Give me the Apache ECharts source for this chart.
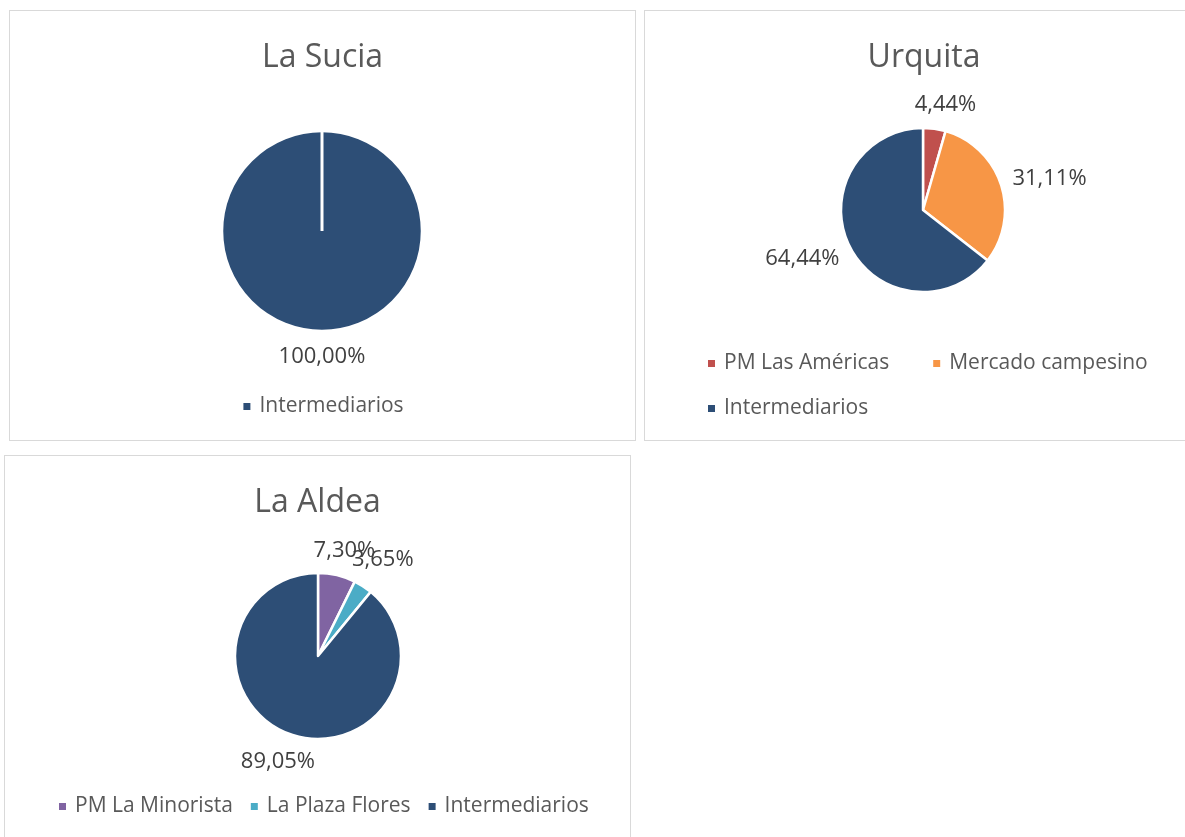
<!DOCTYPE html>
<html>
<head>
<meta charset="utf-8">
<script src="https://cdn.jsdelivr.net/npm/echarts@6/dist/echarts.min.js"></script>
<style>
  html, body { margin: 0; padding: 0; background: #fff; overflow: hidden; width: 1185px; height: 837px; }
  .panel { position: absolute; border: 1.5px solid #d9d9d9; box-sizing: border-box; }
</style>
</head>
<body>
<div id="p1" class="panel" style="left:9px; top:10px; width:627px; height:431px;"></div>
<div id="p2" class="panel" style="left:644px; top:10px; width:560px; height:431px;"></div>
<div id="p3" class="panel" style="left:4px; top:455px; width:627px; height:400px;"></div>
<script>
// Shares of sales channels per community (percent)
const sucia_categories = ['Intermediarios'];
const sucia_values = [100.00];

const urquita_categories = ['PM Las Américas', 'Mercado campesino', 'Intermediarios'];
const urquita_values = [4.44, 31.11, 64.44];

const aldea_categories = ['PM La Minorista', 'La Plaza Flores', 'Intermediarios'];
const aldea_values = [7.30, 3.65, 89.05];

const COLORS = {
  'Intermediarios': '#2d4e76',
  'PM Las Américas': '#c0504d',
  'Mercado campesino': '#f79646',
  'PM La Minorista': '#8064a2',
  'La Plaza Flores': '#4bacc6'
};

const FONT = '"Open Sans"';
const LABEL_SIZE = 22;

function pct(v) {
  return v.toFixed(2).replace('.', ',') + '%';
}

function pieData(cats, vals) {
  return cats.map((c, i) => ({ name: c, value: vals[i], itemStyle: { color: COLORS[c] } }));
}

function titleOpt(text, top) {
  return {
    text: text, left: 'center', top: top,
    textStyle: { fontFamily: FONT, fontSize: 32, fontWeight: 'normal', color: '#595959' }
  };
}

function legendOpt(names, extra) {
  return Object.assign({
    data: names, icon: 'rect', itemWidth: 9, itemHeight: 9,
    selectedMode: false,
    textStyle: { fontFamily: FONT, fontSize: 21, color: '#595959', padding: [0, 0, 0, 3] }
  }, extra);
}

// Labels sit just outside the rim, centred along each slice's middle direction
// (turned by a small angle so they settle like best-fit labels)
function outsideLabelLayout(vals, center, radius, gap, turnDeg) {
  const total = vals.reduce((a, b) => a + b, 0);
  const halfH = LABEL_SIZE * 0.45;
  return function (p) {
    let before = 0;
    for (let i = 0; i < p.dataIndex; i++) before += vals[i];
    const midDeg = 90 - (before + vals[p.dataIndex] / 2) / total * 360 + turnDeg;
    const mid = midDeg * Math.PI / 180;
    const ux = Math.cos(mid), uy = -Math.sin(mid);
    const w = p.labelRect.width;
    const d = radius + gap + Math.abs(ux) * w / 2 + Math.abs(uy) * halfH;
    return {
      x: center[0] + ux * d, y: center[1] + uy * d,
      align: 'center', verticalAlign: 'middle'
    };
  };
}

function pieSeries(cats, vals, center, radius, gap, turnDeg) {
  return {
    type: 'pie', center: center, radius: radius, startAngle: 90, clockwise: true,
    avoidLabelOverlap: false, silent: true, animation: false,
    itemStyle: { borderColor: '#ffffff', borderWidth: 2.5 },
    label: {
      show: true, position: 'outside', fontFamily: FONT, fontSize: LABEL_SIZE, color: '#404040',
      formatter: p => pct(p.value)
    },
    labelLine: { show: false },
    labelLayout: outsideLabelLayout(vals, center, radius, gap, turnDeg),
    data: pieData(cats, vals)
  };
}

// La Sucia
const c1 = echarts.init(document.getElementById('p1'));
const s1Center = [312, 220], s1Radius = 100;
c1.setOption({
  title: titleOpt('La Sucia', 26),
  legend: legendOpt(sucia_categories, { left: 'center', top: 380 }),
  series: [pieSeries(sucia_categories, sucia_values, s1Center, s1Radius, 16, 0)],
  // seam of the single full slice, from the centre up to the rim
  graphic: [{
    type: 'line', silent: true, z: 100,
    shape: { x1: s1Center[0], y1: s1Center[1], x2: s1Center[0], y2: s1Center[1] - s1Radius - 1 },
    style: { stroke: '#ffffff', lineWidth: 3 }
  }]
});

// Urquita
const c2 = echarts.init(document.getElementById('p2'));
const s2Center = [278, 199], s2Radius = 82;
c2.setOption({
  title: titleOpt('Urquita', 26),
  legend: [
    legendOpt(urquita_categories.slice(0, 2), { left: 56, top: 337, itemGap: 42 }),
    legendOpt(urquita_categories.slice(2), { left: 56, top: 382 })
  ],
  series: [pieSeries(urquita_categories, urquita_values, s2Center, s2Radius, 10, -4)]
});

// La Aldea
const c3 = echarts.init(document.getElementById('p3'));
const s3Center = [313, 200], s3Radius = 83;
c3.setOption({
  title: titleOpt('La Aldea', 26),
  legend: legendOpt(aldea_categories, { left: 47, top: 335, itemGap: 16 }),
  series: [pieSeries(aldea_categories, aldea_values, s3Center, s3Radius, 8, -1)]
});
</script>
</body>
</html>
